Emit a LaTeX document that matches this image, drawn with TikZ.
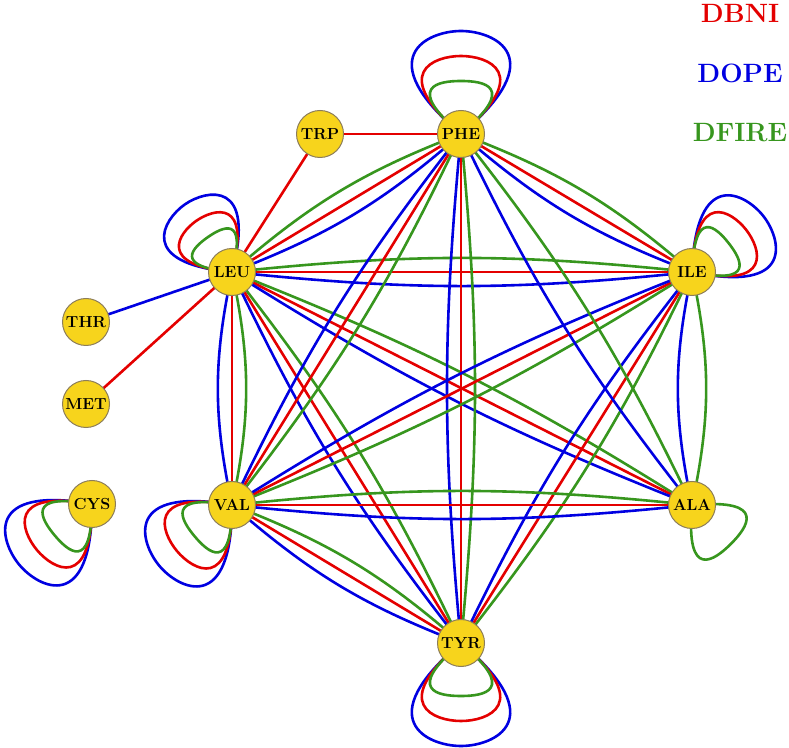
\documentclass[tikz,border=0pt]{standalone}
\usepackage{fontspec}
\usetikzlibrary{backgrounds,calc}
\definecolor{cR}{RGB}{228,0,0}
\definecolor{cB}{RGB}{0,0,225}
\definecolor{cG}{RGB}{55,150,30}
\definecolor{nodefill}{RGB}{247,212,28}
\definecolor{nodeline}{RGB}{140,125,90}
% bulb-shaped self loop: style, node, axis angle, start offset angle, height, k1, k2
\newcommand\bulb[7]{\draw[#1] (#2.center)
  .. controls ($(#2.center)+({#3+#4}:#6)$) and ($(#2.center)+(#3:#5)+({#3+90}:#7)$) .. ($(#2.center)+(#3:#5)$)
  .. controls ($(#2.center)+(#3:#5)+({#3-90}:#7)$) and ($(#2.center)+({#3-#4}:#6)$) .. (#2.center);}
% full set of three loops, scaled by #3
\newcommand\loopset[3]{%
  \bulb{dope}{#1}{#2}{50}{103*#3}{120*#3}{33*#3}%
  \bulb{dbni}{#1}{#2}{50}{78*#3}{95*#3}{27*#3}%
  \bulb{dfire}{#1}{#2}{50}{53*#3}{75*#3}{22*#3}}
\newcommand\trio[3]{%
  \draw[dfire] (#1.center) to[bend left=#3] (#2.center);%
  \draw[dbni] (#1.center) -- (#2.center);%
  \draw[dope] (#1.center) to[bend right=#3] (#2.center);}
\newcommand\duo[3]{%
  \draw[dfire] (#1.center) to[bend left=#3] (#2.center);%
  \draw[dope] (#1.center) to[bend right=#3] (#2.center);}
\begin{document}
\begin{tikzpicture}[x=1pt,y=1pt,
  res/.style={circle, fill=nodefill, draw=nodeline, line width=1pt, minimum size=47pt, inner sep=0pt, font=\fontsize{16}{16}\selectfont\bfseries},
  edge/.style={line width=2.6pt},
  dbni/.style={edge, cR}, dope/.style={edge, cB}, dfire/.style={edge, cG},
  legend/.style={font=\fontsize{26.5}{30}\selectfont\bfseries}]
\useasboundingbox (0,0) rectangle (789,747);
\node[res] (PHE) at (461,613) {PHE};
\node[res] (TRP) at (320,613) {TRP};
\node[res] (LEU) at (232,475) {LEU};
\node[res] (ILE) at (692,475) {ILE};
\node[res] (THR) at (86,425) {THR};
\node[res] (MET) at (86,343) {MET};
\node[res] (CYS) at (92,243) {CYS};
\node[res] (VAL) at (232,242) {VAL};
\node[res] (ALA) at (692,242) {ALA};
\node[res] (TYR) at (461,104) {TYR};
\node[legend, text=cR] (lDBNI) at (740,734) {DBNI};
\node[legend, text=cB] (lDOPE) at (740,674) {DOPE};
\node[legend, text=cG] (lDFIRE) at (740,614) {DFIRE};
\begin{scope}[on background layer]
\draw[dbni] (TRP.center) -- (PHE.center);
\draw[dbni] (LEU.center) -- (TRP.center);
\draw[dope] (LEU.center) -- (THR.center);
\draw[dbni] (LEU.center) -- (MET.center);
\trio{LEU}{PHE}{10}
\trio{LEU}{ILE}{6}
\trio{LEU}{VAL}{12}
\trio{LEU}{ALA}{5.3}
\trio{LEU}{TYR}{6.3}
\trio{PHE}{ILE}{10}
\trio{PHE}{VAL}{6.3}
\trio{PHE}{TYR}{5.4}
\trio{ILE}{VAL}{5.3}
\trio{ILE}{TYR}{6.3}
\trio{VAL}{ALA}{6}
\trio{VAL}{TYR}{10}
\duo{PHE}{ALA}{6.3}
\duo{ILE}{ALA}{12}
\loopset{PHE}{90}{1}
\loopset{TYR}{270}{1}
\loopset{LEU}{125}{0.8}
\loopset{ILE}{38}{0.88}
\loopset{VAL}{220}{0.92}
\loopset{CYS}{220}{0.92}
\bulb{dfire}{ALA}{-45}{50}{55}{78}{22}
\end{scope}
\end{tikzpicture}
\end{document}
